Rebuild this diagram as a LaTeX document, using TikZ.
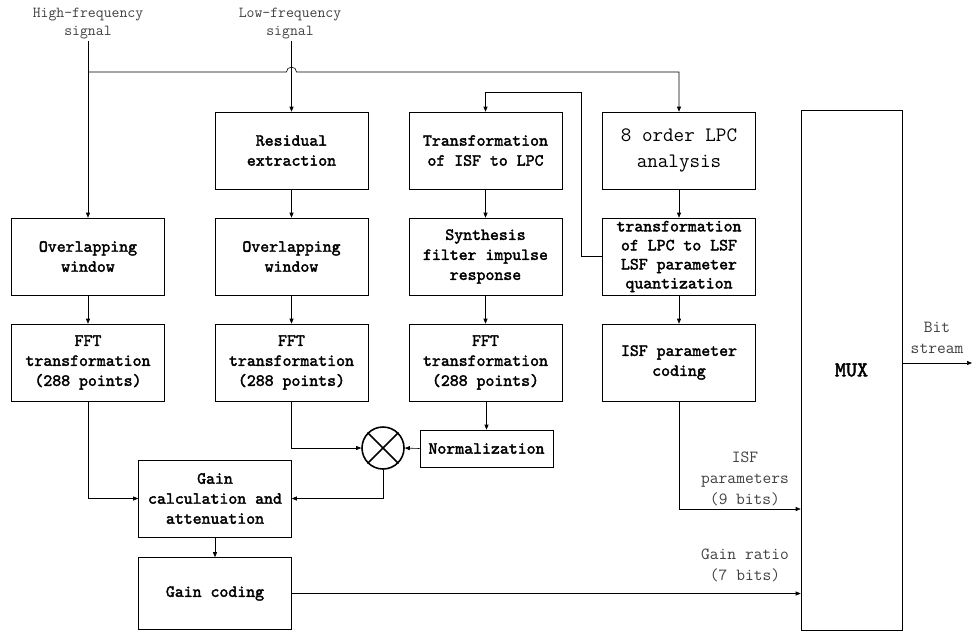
\documentclass[tikz,border=0pt]{standalone}
\usepackage{fontspec}
\newfontfamily\boxfont{lmmono10-regular.otf}[FakeBold=2.2]
\usetikzlibrary{arrows.meta}

\begin{document}
\begin{tikzpicture}[x=1pt,y=-1pt,line width=0.6pt,node distance=106pt,
		>={Triangle[length=5pt,width=4pt]},
		box/.style = {draw, align=center, inner sep=1pt, minimum width=153pt, minimum height=77pt, font=\boxfont\fontsize{17}{20}\selectfont},
		lab/.style = {align=center, inner sep=1pt, text=black!75, font=\ttfamily\fontsize{17}{21}\selectfont}]
		\useasboundingbox (0,0) rectangle (972,630);
		% inputs
		\node[lab, font=\ttfamily\fontsize{15.3}{18}\selectfont] (hflab) at (88,24) {High-frequency\\signal};
		\node[lab, font=\ttfamily\fontsize{15.3}{18}\selectfont] (lflab) at (290,24) {Low-frequency\\signal};
		% blocks
		\node[box] (ow1) at (88,256.5) {Overlapping\\window};
		\node[box] (fft1) [below of=ow1] {FFT\\transformation\\(288 points)};
		\node[box] (rx) at (291.5,150.5) {Residual\\extraction};
		\node[box] (ow2) [below of=rx] {Overlapping\\window};
		\node[box] (fft2) [below of=ow2] {FFT\\transformation\\(288 points)};
		\node[box] (isflpc) [right of=rx, node distance=194pt] {Transformation\\of ISF to LPC};
		\node[box] (syn) [below of=isflpc] {Synthesis\\filter impulse\\response};
		\node[box] (fft3) [below of=syn] {FFT\\transformation\\(288 points)};
		\node[box, font=\ttfamily\fontsize{20.5}{26}\selectfont] (lpc) [right of=isflpc, node distance=193.5pt] {8 order LPC\\analysis};
		\node[box, font=\boxfont\fontsize{17}{19}\selectfont] (lsf) [below of=lpc] {transformation\\of LPC to LSF\\LSF parameter\\quantization};
		\node[box] (isfc) [below of=lsf] {ISF parameter\\coding};
		\node[box, minimum width=101pt, minimum height=520pt, font=\boxfont\fontsize{21}{22}\selectfont] (mux) at (851.5,370) {MUX};
		\node[box, minimum width=133pt, minimum height=37pt] (norm) at (486.5,448.5) {Normalization};
		\node[draw, circle, line width=1.6pt, minimum size=42pt] (mult) at (383,448) {};
		\draw[line width=1.6pt] (mult.north west) -- (mult.south east) (mult.north east) -- (mult.south west);
		\node[box] (gca) at (215,498.5) {Gain\\calculation and\\attenuation};
		\node[box, minimum height=72pt] (gcod) at (215,593.5) {Gain coding};
		% outputs
		\node[lab] (isflab) at (745,479) {ISF\\parameters\\(9 bits)};
		\node[lab] (gainlab) at (745,565) {Gain ratio\\(7 bits)};
		\node[lab] (bitlab) at (937,338) {Bit\\stream};
		\coordinate (split) at (88,72);
		\coordinate (out) at (972,363);
		% connections
		\draw[->] (hflab.south) -- (ow1.north);
		\draw[->] (split) -- (286.5,72) arc[start angle=180, end angle=0, radius=5pt] -- (lpc.north |- split) -- (lpc.north);
		\draw[->] (rx.north |- lflab.south) -- (rx.north);
		\draw[->] (ow1) -- (fft1);
		\draw[->] (rx) -- (ow2);
		\draw[->] (ow2) -- (fft2);
		\draw[->] (isflpc) -- (syn);
		\draw[->] (syn) -- (fft3);
		\draw[->] (lpc) -- (lsf);
		\draw[->] (lsf) -- (isfc);
		\draw[->] (lsf.west) -- ++(-21,0) |- (isflpc.north |- 0,92) -- (isflpc.north);
		\draw[->] (fft1.south) |- (gca.west);
		\draw[->] (fft2.south) |- (mult.west);
		\draw[->] (fft3.south -| norm.north) -- (norm.north);
		\draw[->] (norm.west) -- (mult.east);
		\draw[->] (mult.south) |- (gca.east);
		\draw[->] (gca) -- (gcod);
		\draw[->] (isfc.south) |- (mux.west |- 0,509);
		\draw[->] (gcod.east) -- (mux.west |- gcod.east);
		\draw[->] (mux.east |- out) -- (out);
	\end{tikzpicture}
\end{document}
